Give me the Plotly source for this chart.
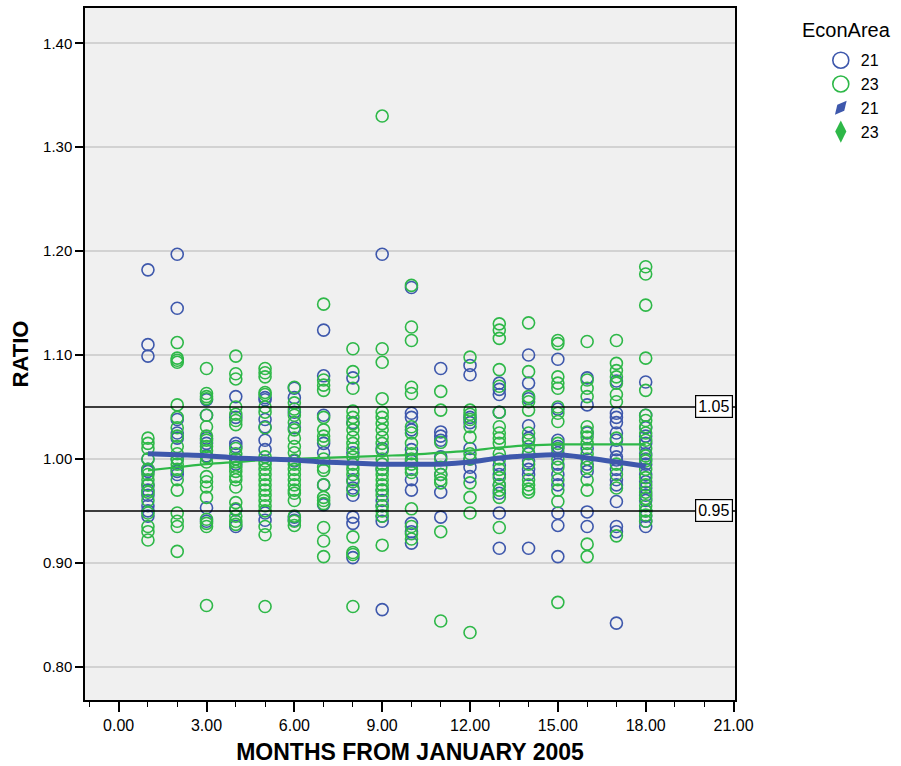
import plotly.graph_objects as go

months = list(range(1, 19))

econ21_values = [
    [1.182, 1.110, 1.099, 1.000, 0.990, 0.988, 0.975, 0.970, 0.965, 0.955, 0.950, 0.945],
    [1.197, 1.145, 1.038, 1.025, 1.020, 1.000, 0.988, 0.985],
    [1.057, 1.042, 1.020, 1.015, 1.003, 0.953, 0.940],
    [1.060, 1.040, 1.015, 1.012, 1.000, 0.995, 0.951, 0.935],
    [1.059, 1.057, 1.038, 1.031, 1.018, 1.009, 0.948, 0.941],
    [1.068, 1.059, 1.045, 1.030, 0.998, 0.944, 0.941],
    [1.124, 1.080, 1.042, 1.015, 1.006, 0.975, 0.956],
    [1.078, 1.035, 1.006, 0.980, 0.972, 0.965, 0.944, 0.938, 0.905],
    [1.197, 1.010, 0.990, 0.970, 0.960, 0.955, 0.945, 0.940, 0.855],
    [1.165, 1.044, 1.040, 1.028, 1.009, 0.998, 0.980, 0.970, 0.938, 0.930, 0.919],
    [1.087, 1.026, 1.022, 1.018, 1.002, 0.985, 0.968, 0.944],
    [1.090, 1.081, 1.040, 1.035, 1.010, 1.000, 0.992, 0.983],
    [1.073, 1.067, 1.062, 1.045, 0.994, 0.985, 0.975, 0.967, 0.948, 0.914],
    [1.100, 1.073, 1.058, 1.032, 1.020, 1.005, 0.998, 0.990, 0.985, 0.914],
    [1.096, 1.048, 1.018, 1.012, 1.006, 0.995, 0.985, 0.975, 0.948, 0.936, 0.906],
    [1.078, 1.052, 1.025, 1.010, 0.995, 0.988, 0.949, 0.935],
    [1.075, 1.044, 1.040, 1.035, 1.025, 1.018, 1.009, 1.002, 0.999, 0.990, 0.980, 0.975, 0.959, 0.935, 0.930, 0.842],
    [1.074, 1.042, 1.030, 1.022, 1.015, 1.005, 1.000, 0.995, 0.985, 0.978, 0.972, 0.965, 0.960, 0.950, 0.945, 0.940, 0.935],
]

econ23_values = [
    [1.020, 1.015, 1.010, 1.000, 0.990, 0.985, 0.980, 0.975, 0.968, 0.960, 0.948, 0.935, 0.930, 0.922],
    [1.112, 1.097, 1.095, 1.093, 1.052, 1.040, 1.030, 1.022, 1.012, 1.005, 1.000, 0.995, 0.990, 0.980, 0.970, 0.948, 0.940, 0.935, 0.911],
    [1.087, 1.063, 1.060, 1.058, 1.042, 1.031, 1.022, 1.018, 1.012, 1.008, 1.002, 0.997, 0.983, 0.978, 0.973, 0.963, 0.942, 0.938, 0.935, 0.859],
    [1.099, 1.082, 1.077, 1.050, 1.043, 1.037, 1.033, 1.010, 1.005, 1.000, 0.997, 0.992, 0.988, 0.983, 0.980, 0.973, 0.958, 0.952, 0.945, 0.940, 0.937],
    [1.087, 1.083, 1.079, 1.064, 1.062, 1.050, 1.045, 1.030, 1.002, 0.998, 0.995, 0.990, 0.985, 0.980, 0.975, 0.970, 0.965, 0.960, 0.955, 0.950, 0.935, 0.927, 0.858],
    [1.069, 1.054, 1.048, 1.042, 1.035, 1.028, 1.020, 1.012, 1.006, 0.999, 0.995, 0.990, 0.985, 0.980, 0.975, 0.970, 0.967, 0.960, 0.945, 0.940, 0.936],
    [1.149, 1.076, 1.071, 1.066, 1.040, 1.028, 1.022, 1.018, 1.000, 0.992, 0.989, 0.975, 0.963, 0.960, 0.957, 0.934, 0.921, 0.906],
    [1.106, 1.084, 1.068, 1.046, 1.040, 1.034, 1.028, 1.021, 1.015, 1.010, 1.002, 0.995, 0.990, 0.985, 0.978, 0.970, 0.925, 0.910, 0.908, 0.858],
    [1.330, 1.106, 1.093, 1.058, 1.045, 1.040, 1.034, 1.028, 1.021, 1.015, 1.008, 1.000, 0.995, 0.990, 0.985, 0.980, 0.975, 0.970, 0.965, 0.955, 0.950, 0.945, 0.917],
    [1.167, 1.127, 1.114, 1.069, 1.063, 1.031, 1.025, 1.015, 1.005, 1.000, 0.995, 0.990, 0.987, 0.952, 0.935, 0.928, 0.923],
    [1.065, 1.047, 1.016, 1.000, 0.992, 0.985, 0.980, 0.977, 0.930, 0.844],
    [1.098, 1.047, 1.043, 1.038, 1.031, 1.021, 1.005, 1.000, 0.977, 0.963, 0.948, 0.833],
    [1.130, 1.124, 1.116, 1.086, 1.070, 1.045, 1.031, 1.025, 1.020, 1.015, 1.005, 1.000, 0.990, 0.982, 0.975, 0.970, 0.963, 0.934],
    [1.131, 1.084, 1.060, 1.055, 1.047, 1.025, 1.018, 1.012, 1.006, 0.995, 0.980, 0.975, 0.971, 0.968],
    [1.114, 1.111, 1.079, 1.073, 1.068, 1.050, 1.044, 1.036, 1.015, 1.010, 1.000, 0.992, 0.980, 0.970, 0.959, 0.862],
    [1.113, 1.076, 1.068, 1.060, 1.031, 1.026, 1.021, 1.015, 1.005, 1.000, 0.992, 0.980, 0.970, 0.918, 0.906],
    [1.114, 1.092, 1.085, 1.079, 1.073, 1.062, 1.055, 1.020, 0.995, 0.985, 0.972, 0.926],
    [1.185, 1.178, 1.148, 1.097, 1.066, 1.042, 1.037, 1.031, 1.025, 1.018, 1.010, 1.003, 0.998, 0.990, 0.982, 0.975, 0.968, 0.962, 0.955, 0.950, 0.946, 0.940],
]

loess21 = [1.005, 1.004, 1.003, 1.001, 1.000, 0.999, 0.997, 0.996, 0.995, 0.995, 0.995, 0.997,
           1.001, 1.003, 1.004, 1.001, 0.997, 0.993]
loess23 = [0.989, 0.992, 0.995, 0.997, 0.999, 1.000, 1.001, 1.002, 1.003, 1.004, 1.006, 1.008,
           1.011, 1.013, 1.014, 1.014, 1.014, 1.014]

ref_lines = [1.05, 0.95]
y_ticks = [0.80, 0.90, 1.00, 1.10, 1.20, 1.30, 1.40]
x_ticks = [0, 3, 6, 9, 12, 15, 18, 21]
legend_title = "EconArea"

BLUE = "#3E58AC"
GREEN = "#2EB848"


def flatten(groups):
    xs, ys = [], []
    for m, vals in zip(months, groups):
        for v in vals:
            xs.append(m)
            ys.append(v)
    return xs, ys


x21, y21 = flatten(econ21_values)
x23, y23 = flatten(econ23_values)

fig = go.Figure()
fig.add_trace(go.Scatter(x=x21, y=y21, mode="markers", name="21", showlegend=False,
                         marker=dict(symbol="circle-open", size=12, color=BLUE,
                                     line=dict(width=1.6, color=BLUE))))
fig.add_trace(go.Scatter(x=x23, y=y23, mode="markers", name="23", showlegend=False,
                         marker=dict(symbol="circle-open", size=12, color=GREEN,
                                     line=dict(width=1.6, color=GREEN))))
fig.add_trace(go.Scatter(x=months, y=loess23, mode="lines", showlegend=False,
                         line=dict(color=GREEN, width=2.2, shape="spline")))
fig.add_trace(go.Scatter(x=months, y=loess21, mode="lines", showlegend=False,
                         line=dict(color=BLUE, width=5, shape="spline")))
# legend entries
fig.add_trace(go.Scatter(x=[None], y=[None], mode="markers", name="21",
                         marker=dict(symbol="circle-open", size=16, color=BLUE,
                                     line=dict(width=1.6, color=BLUE))))
fig.add_trace(go.Scatter(x=[None], y=[None], mode="markers", name="23",
                         marker=dict(symbol="circle-open", size=16, color=GREEN,
                                     line=dict(width=1.6, color=GREEN))))
fig.add_trace(go.Scatter(x=[None], y=[None], mode="markers", name="21",
                         marker=dict(symbol="diamond-tall", size=13, angle=40, color=BLUE)))
fig.add_trace(go.Scatter(x=[None], y=[None], mode="markers", name="23",
                         marker=dict(symbol="diamond-tall", size=16, color=GREEN)))

for r in ref_lines:
    fig.add_shape(type="line", xref="paper", x0=0, x1=1, yref="y", y0=r, y1=r,
                  line=dict(color="black", width=1.5))
    fig.add_annotation(xref="paper", x=0.997, xanchor="right", yref="y", y=r,
                       text=f"{r:.2f}", showarrow=False,
                       font=dict(family="Arial, Liberation Sans", size=16, color="black"),
                       bgcolor="white", bordercolor="black", borderwidth=1.2, borderpad=2)

fig.add_annotation(xref="paper", yref="paper", x=1.1, y=0.968, xanchor="left", yanchor="middle",
                   text=legend_title, showarrow=False,
                   font=dict(family="Arial, Liberation Sans", size=20, color="black"))

fig.update_layout(
    width=901, height=766,
    margin=dict(l=85, r=166, t=8, b=66),
    paper_bgcolor="white",
    plot_bgcolor="#F0F0F0",
    font=dict(family="Arial, Liberation Sans", color="black"),
    legend=dict(font=dict(size=16), x=1.132, y=0.949, xanchor="left", yanchor="top",
                xref="paper", yref="paper", itemsizing="trace", tracegroupgap=0,
                bgcolor="rgba(0,0,0,0)"),
    showlegend=True,
)

fig.update_xaxes(
    range=[-1.15, 21.05], tickvals=x_ticks, ticktext=[f"{v:.2f}" for v in x_ticks],
    ticks="outside", ticklen=10, tickwidth=1.5, tickcolor="black",
    minor=dict(dtick=1, tick0=0, ticks="outside", ticklen=5, tickwidth=1.2, tickcolor="black"),
    showgrid=False, zeroline=False, automargin=False,
    showline=True, linecolor="black", linewidth=1.5, mirror=True,
    tickfont=dict(family="Liberation Sans Narrow, Arial Narrow, Arial", size=16),
    title=dict(text="<b>MONTHS FROM JANUARY 2005</b>",
               font=dict(family="Liberation Sans Narrow, Arial Narrow, Arial", size=23), standoff=11),
)
fig.update_yaxes(
    range=[0.768, 1.434], tickvals=y_ticks, ticktext=[f"{v:.2f}" for v in y_ticks],
    ticks="outside", ticklen=8, tickwidth=2, tickcolor="black",
    showgrid=True, gridcolor="#D2D2D2", gridwidth=2, zeroline=False, automargin=False,
    showline=True, linecolor="black", linewidth=1.5, mirror=True,
    tickfont=dict(size=15),
    title=dict(text="<b>RATIO</b>", font=dict(size=22), standoff=8),
)

fig.write_html("out.html")
